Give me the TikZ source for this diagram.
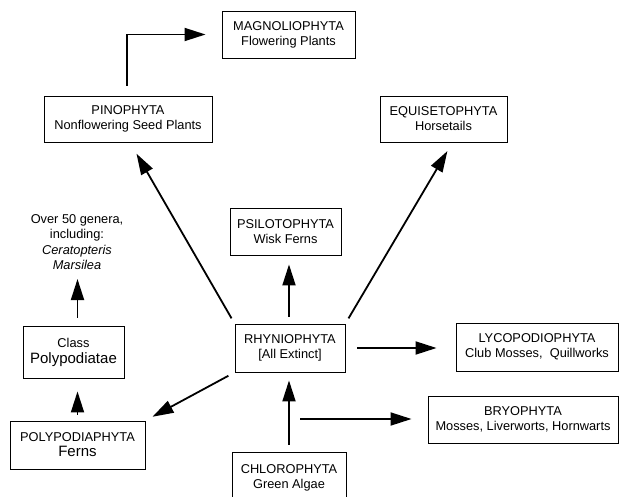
\documentclass[tikz,border=0pt]{standalone}
\usepackage{fontspec}
\setmainfont{Liberation Sans}
\usetikzlibrary{arrows.meta, positioning, calc}

\begin{document}
\begin{tikzpicture}[x=1pt, y=-1pt,
  box/.style={rectangle, draw, line width=0.9pt, align=center, inner sep=2pt,
    font=\fontsize{12.8}{15}\selectfont},
  arr/.style={line width=1.8pt, -{Triangle[length=21pt, width=13pt]}}]
\useasboundingbox (0,0) rectangle (619,497);

\node[box, minimum width=133pt, minimum height=47pt] (magno) at (288.5,34.5) {MAGNOLIOPHYTA\\Flowering Plants};
\node[box, minimum width=168pt, minimum height=46pt] (pino) at (128,119) {PINOPHYTA\\Nonflowering Seed Plants};
\node[box, minimum width=127pt, minimum height=46pt] (equi) at (443.5,119) {EQUISETOPHYTA\\Horsetails};
\node[box, minimum width=111pt, minimum height=47pt] (psilo) at (285.5,231.5) {PSILOTOPHYTA\\Wisk Ferns};
\node[align=center, font=\fontsize{12.8}{15.3}\selectfont] (genera) at (77,242) {Over 50 genera,\\including:\\\textit{Ceratopteris}\\\textit{Marsilea}};
\node[box, minimum width=101pt, minimum height=52pt] (classp) at (73.5,352) {Class\\[1pt]{\fontsize{15}{17}\selectfont Polypodiatae}};
\node[box, minimum width=110pt, minimum height=48pt] (rhynio) at (290,348) {RHYNIOPHYTA\\{[All Extinct]}};
\node[box, minimum width=162pt, minimum height=48pt] (lyco) at (537,347) {LYCOPODIOPHYTA\\Club Mosses,\ \ Quillworks};
\node[box, minimum width=190pt, minimum height=47pt] (bryo) at (523,419.5) {BRYOPHYTA\\Mosses, Liverworts, Hornwarts};
\node[box, minimum width=135pt, minimum height=48pt] (polyp) at (77.5,445) {POLYPODIAPHYTA\\{\fontsize{15}{17}\selectfont Ferns}};
\node[box, minimum width=114pt, minimum height=52pt] (chloro) at (289,478) {CHLOROPHYTA\\Green Algae};
\coordinate (branch) at (300,419);

% from the stem group outwards
\draw[arr, shorten <=10pt, shorten >=16pt] ([xshift=-1pt]pino.north) |- (magno.west);
\draw[arr, shorten <=6pt, shorten >=13pt] (rhynio.north west) -- ([xshift=2pt]pino.south);
\draw[arr, shorten <=7pt, shorten >=9pt] ([xshift=-1pt]rhynio.north) -- ([xshift=-1pt]rhynio.north |- psilo.south);
\draw[arr, shorten <=6pt, shorten >=10pt] (rhynio.north east) -- ([xshift=9pt]equi.south);
\draw[arr, shorten <=12pt, shorten >=19pt] (rhynio.east) -- (rhynio.east -| lyco.west);
\draw[arr, shorten <=7pt, shorten >=8pt] (rhynio.south west) -- (polyp.north east);
\draw[arr, shorten <=7pt, shorten >=8pt] (chloro.north) -- (chloro.north |- rhynio.south);
\draw[arr, shorten >=16pt] (branch) -- (branch -| bryo.west);
\draw[arr, shorten <=6pt, shorten >=13pt] (polyp.north) -- (polyp.north |- classp.south);
\draw[arr, shorten <=8pt, shorten >=6pt] ([xshift=4pt]classp.north) -- ([xshift=4pt]classp.north |- genera.south);
\end{tikzpicture}
\end{document}
